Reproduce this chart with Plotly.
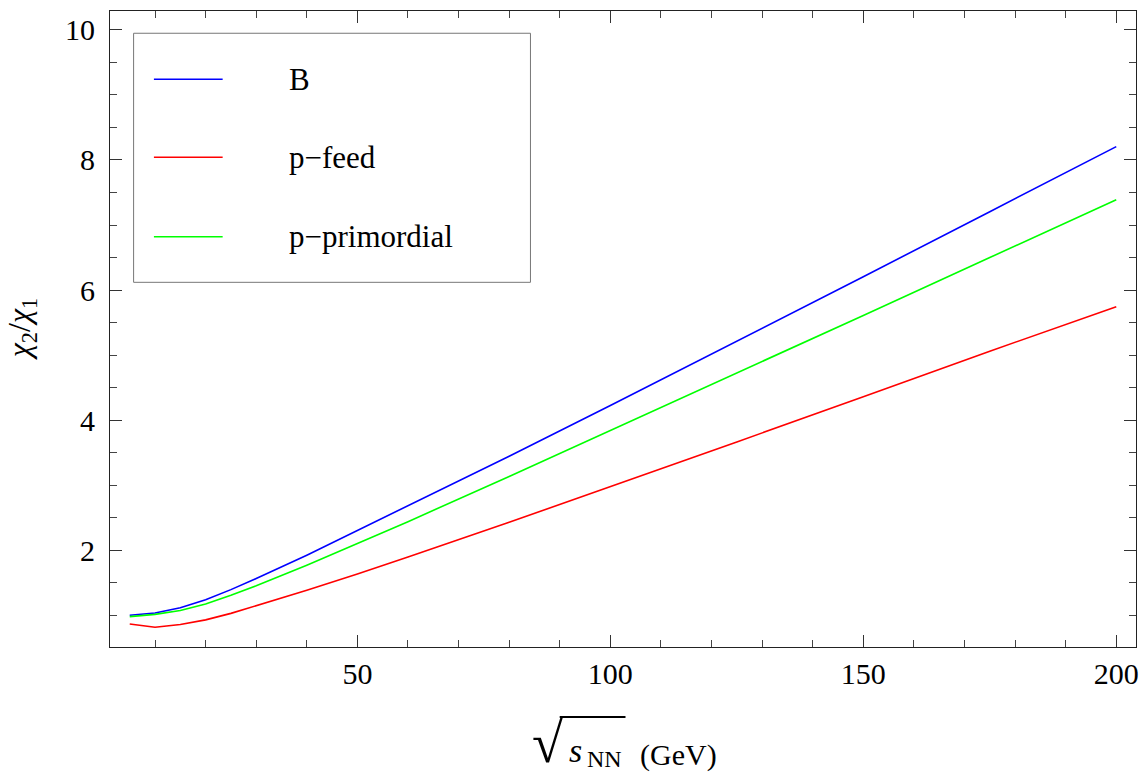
import plotly.graph_objects as go

# sqrt(s_NN) in GeV
energy = [5, 10, 15, 20, 25, 30, 40, 50, 60, 80, 100, 125, 150, 175, 200]
ratio_B = [1.00, 1.035, 1.115, 1.24, 1.395, 1.565, 1.925, 2.305, 2.685, 3.445, 4.225, 5.21, 6.205, 7.205, 8.205]
ratio_pfeed = [0.867, 0.816, 0.86, 0.93, 1.03, 1.145, 1.385, 1.635, 1.895, 2.43, 2.975, 3.665, 4.36, 5.06, 5.745]
ratio_pprim = [0.98, 1.015, 1.075, 1.175, 1.31, 1.455, 1.77, 2.10, 2.44, 3.135, 3.84, 4.725, 5.61, 6.50, 7.39]

series_names = ["B", "p\u2212feed", "p\u2212primordial"]
series_colors = ["#0000ff", "#ff0000", "#00ff00"]
series_values = [ratio_B, ratio_pfeed, ratio_pprim]

x_ticks = [50, 100, 150, 200]
y_ticks = [2, 4, 6, 8, 10]

FONT = "Liberation Serif, Times New Roman, serif"

fig = go.Figure()
for name, color, vals in zip(series_names, series_colors, series_values):
    fig.add_trace(go.Scatter(x=energy, y=vals, mode="lines", name=name,
                             line=dict(color=color, width=1.6), showlegend=False))

axis_common = dict(
    showline=True, linecolor="#222", linewidth=1, mirror="ticks",
    ticks="inside", tickcolor="#333", tickwidth=1, showgrid=False, zeroline=False,
    tickfont=dict(family=FONT, size=30, color="black"),
)
fig.update_xaxes(range=[1.1, 203.9], tickvals=x_ticks, ticklen=12, ticklabelstandoff=0,
                 minor=dict(dtick=10, tick0=0, ticks="inside", ticklen=7, tickcolor="#444", tickwidth=1),
                 **axis_common)
fig.update_yaxes(range=[0.513, 10.29], tickvals=y_ticks, ticklen=12, ticklabelstandoff=8,
                 minor=dict(dtick=0.5, tick0=0, ticks="inside", ticklen=7, tickcolor="#444", tickwidth=1),
                 **axis_common)


def px_x(p):
    return (p - 110) / 1029


def px_y(p):
    return (647 - p) / 636


# legend box (drawn manually to match reference layout)
shapes = [dict(type="rect", xref="paper", yref="paper", x0=0.0230, x1=0.4098, y0=0.5734, y1=0.9650,
               line=dict(color="#777", width=1), fillcolor="white", layer="above")]
annotations = []
leg_y = [0.8926, 0.7700, 0.6451]
for name, color, yy in zip(series_names, series_colors, leg_y):
    shapes.append(dict(type="line", xref="paper", yref="paper", x0=0.0428, x1=0.1098, y0=yy, y1=yy,
                       line=dict(color=color, width=1.6), layer="above"))
    annotations.append(dict(xref="paper", yref="paper", x=0.1730, y=yy, xanchor="left", yanchor="middle",
                            text=name, showarrow=False, font=dict(family=FONT, size=31, color="black")))

# y title
annotations.append(dict(xref="paper", yref="paper", x=px_x(21), y=0.5, xanchor="center", yanchor="middle",
                        textangle=-90, showarrow=False,
                        text="<i>\u03c7</i><sub>2</sub>/<i>\u03c7</i><sub>1</sub>",
                        font=dict(family=FONT, size=32, color="black")))
# x title: radical + s_NN (GeV)
annotations.append(dict(xref="paper", yref="paper", x=px_x(549), y=px_y(743),
                        xanchor="center", yanchor="middle", showarrow=False, text="\u221a",
                        font=dict(family=FONT, size=56, color="black")))
annotations.append(dict(xref="paper", yref="paper", x=px_x(568), y=px_y(750),
                        xanchor="left", yanchor="middle", showarrow=False, text="<i>s</i>",
                        font=dict(family=FONT, size=34, color="black")))
annotations.append(dict(xref="paper", yref="paper", x=px_x(586), y=px_y(759),
                        xanchor="left", yanchor="middle", showarrow=False, text="NN",
                        font=dict(family=FONT, size=24, color="black")))
annotations.append(dict(xref="paper", yref="paper", x=px_x(640), y=px_y(755),
                        xanchor="left", yanchor="middle", showarrow=False, text="(GeV)",
                        font=dict(family=FONT, size=30, color="black")))
shapes.append(dict(type="line", xref="paper", yref="paper", x0=px_x(561), x1=px_x(627),
                   y0=px_y(717), y1=px_y(717), line=dict(color="black", width=2)))

fig.update_layout(
    width=1144, height=776,
    margin=dict(l=110, r=5, t=11, b=129),
    paper_bgcolor="white", plot_bgcolor="white",
    shapes=shapes, annotations=annotations,
    font=dict(family=FONT, size=30, color="black"),
)
# remove the default 8px body margin so the figure fills the 1144x776 window exactly
fig.write_html("out.html", config={"displayModeBar": False},
               post_script="document.body.style.margin='0';document.documentElement.style.overflow='hidden';")
